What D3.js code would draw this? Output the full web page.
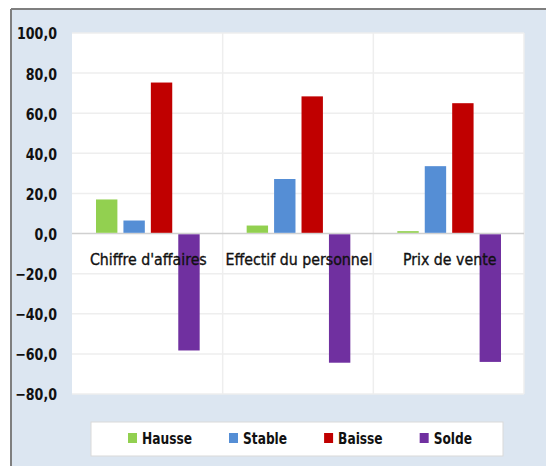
<!DOCTYPE html>
<html><head><meta charset="utf-8">
<script src="https://cdn.jsdelivr.net/npm/d3@7"></script>
<style>
body{margin:0;background:#fff;}
svg{display:block;}
text{font-family:"DejaVu Sans Condensed","DejaVu Sans",sans-serif;}
</style></head>
<body><svg id="c" width="546" height="466"></svg>
<script>
const categories = ["Chiffre d'affaires", "Effectif du personnel", "Prix de vente"];
const seriesNames = ["Hausse", "Stable", "Baisse", "Solde"];
const hausse = [17.0, 4.0, 1.2];
const stable = [6.5, 27.2, 33.6];
const baisse = [75.3, 68.4, 65.0];
const solde = [-58.3, -64.4, -64.0];
const yTicks = [100, 80, 60, 40, 20, 0, -20, -40, -60, -80];
const colors = ["#92d050", "#558ed5", "#c00000", "#7030a0"];

const values = [hausse, stable, baisse, solde];
const svg = d3.select("#c");

function fitWidth(sel, refText, refWidth) {
  let k = 1;
  sel.each(function() { if (this.textContent === refText) k = refWidth / this.getComputedTextLength(); });
  sel.each(function() {
    const w = this.getComputedTextLength();
    d3.select(this).attr("textLength", w * k).attr("lengthAdjust", "spacingAndGlyphs");
  });
}

svg.append("rect").attr("x", 0).attr("y", 0).attr("width", 546).attr("height", 466).attr("fill", "#fff");
svg.append("rect").attr("x", 12).attr("y", 10).attr("width", 534).attr("height", 456).attr("fill", "#dce6f1");
svg.append("line").attr("x1", 11).attr("x2", 546).attr("y1", 9).attr("y2", 9).attr("stroke", "#7f7f7f").attr("stroke-width", 2);
svg.append("line").attr("x1", 11).attr("x2", 11).attr("y1", 9).attr("y2", 466).attr("stroke", "#7f7f7f").attr("stroke-width", 2);

const plot = {l: 72, r: 524, t: 33, b: 394};
svg.append("rect").attr("x", plot.l).attr("y", plot.t).attr("width", plot.r - plot.l).attr("height", plot.b - plot.t).attr("fill", "#fff");

const y = d3.scaleLinear().domain([-80, 100]).range([plot.b, plot.t]);
const x = d3.scaleBand().domain(categories).range([plot.l, plot.r]).padding(0);
const xs = d3.scaleBand().domain(seriesNames).range([24, x.bandwidth() - 23]).paddingInner(0.22).paddingOuter(0);

svg.append("g").selectAll("line").data(yTicks.filter(d => d !== 0)).join("line")
  .attr("x1", plot.l).attr("x2", plot.r)
  .attr("y1", d => y(d)).attr("y2", d => y(d))
  .attr("stroke", "#eeeeee").attr("stroke-width", 1.5);
const bounds = categories.map(c => x(c)).concat([plot.r]);
svg.append("g").selectAll("line").data(bounds.slice(1)).join("line")
  .attr("x1", d => d).attr("x2", d => d)
  .attr("y1", plot.t).attr("y2", plot.b)
  .attr("stroke", "#eeeeee").attr("stroke-width", 1.5);

svg.append("line").attr("x1", plot.l).attr("x2", plot.r).attr("y1", y(0)).attr("y2", y(0))
  .attr("stroke", "#d0d0d0").attr("stroke-width", 1.5);

const bars = [];
categories.forEach((c, ci) => seriesNames.forEach((s, si) => bars.push({c, s, si, v: values[si][ci]})));
svg.append("g").selectAll("rect").data(bars).join("rect")
  .attr("x", d => x(d.c) + xs(d.s))
  .attr("width", xs.bandwidth())
  .attr("y", d => d.v >= 0 ? y(d.v) : y(0) + 0.75)
  .attr("height", d => d.v >= 0 ? y(0) - 0.75 - y(d.v) : y(d.v) - y(0) - 0.75)
  .attr("fill", d => colors[d.si]);

const yAxis = d3.axisLeft(y).tickValues(yTicks).tickSize(0).tickPadding(0)
  .tickFormat(d => d3.format(".1f")(d).replace(".", ","));
const ga = svg.append("g").attr("transform", "translate(57,0)").call(yAxis);
ga.select(".domain").remove();
const yt = ga.selectAll("text").attr("font-family", "'DejaVu Sans Condensed','DejaVu Sans',sans-serif")
  .attr("font-size", 16.5).attr("font-weight", "bold").attr("fill", "#111").attr("dy", "0.36em");
fitWidth(yt, "100,0", 40);

const cl = svg.append("g").selectAll("text").data(categories).join("text")
  .attr("x", d => x(d) + x.bandwidth() / 2 + 1)
  .attr("y", 265)
  .attr("text-anchor", "middle")
  .attr("font-size", 16.5).attr("fill", "#111")
  .attr("stroke", "#111").attr("stroke-width", 0.35)
  .text(d => d);
fitWidth(cl, "Effectif du personnel", 147);

const lg = svg.append("g");
lg.append("rect").attr("x", 91).attr("y", 422).attr("width", 412).attr("height", 34)
  .attr("fill", "#fff").attr("stroke", "#d9d9d9").attr("stroke-width", 1);
const lt = [];
seriesNames.forEach((s, i) => {
  lt.push(lg.append("text").attr("y", 444).attr("font-size", 16.5).attr("font-weight", "bold").attr("fill", "#111").text(s));
});
let k = 50 / lt[0].node().getComputedTextLength();
let lx = 128;
seriesNames.forEach((s, i) => {
  const w = lt[i].node().getComputedTextLength() * k;
  lg.append("rect").attr("x", lx).attr("y", 433).attr("width", 9).attr("height", 10).attr("fill", colors[i]);
  lt[i].attr("x", lx + 14).attr("textLength", w).attr("lengthAdjust", "spacingAndGlyphs");
  lx += 14 + w + 37;
});
</script></body></html>
